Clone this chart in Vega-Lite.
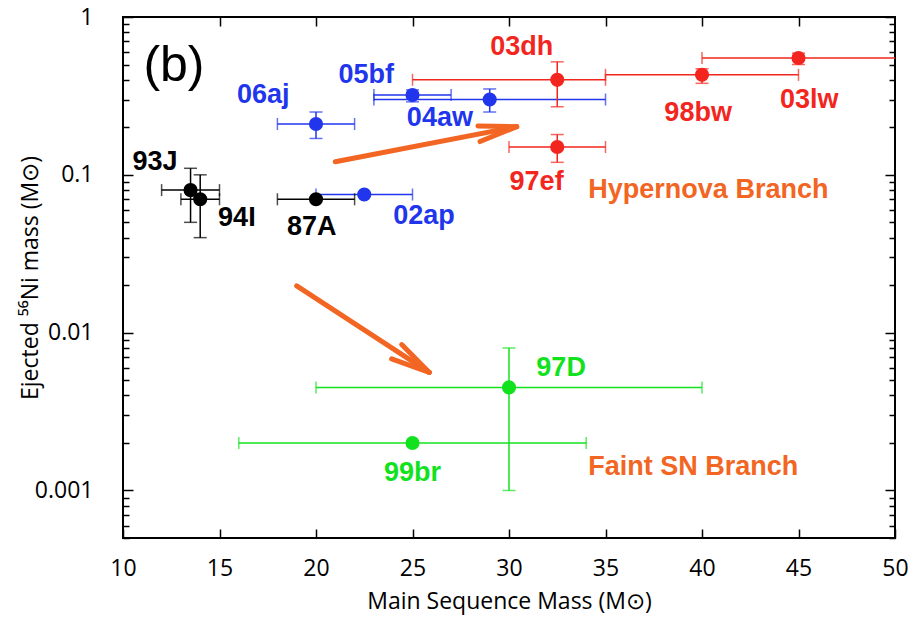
{
  "$schema": "https://vega.github.io/schema/vega-lite/v6.json",
  "width": 772,
  "height": 521,
  "autosize": "none",
  "padding": {"left": 123, "top": 17, "right": 20, "bottom": 85},
  "background": "white",
  "config": {
    "view": {"stroke": "#000", "strokeWidth": 2},
    "axis": {
      "labelFont": "Open Sans", "titleFont": "Open Sans", "labelColor": "#000", "titleColor": "#000",
      "titleFontWeight": "normal", "labelFontSize": 23, "titleFontSize": 23,
      "domain": false, "grid": false, "tickColor": "#000", "tickWidth": 1.5
    },
    "text": {"font": "Liberation Sans", "fontWeight": "bold", "fontSize": 27}
  },
  "datasets": {
    "sn": [
      {"name": "93J", "grp": "black", "x": 13.5, "xlo": 12, "xhi": 15, "y": 0.08, "ylo": 0.05, "yhi": 0.11},
      {"name": "94I", "grp": "black", "x": 14, "xlo": 13, "xhi": 15, "y": 0.07, "ylo": 0.04, "yhi": 0.1},
      {"name": "87A", "grp": "black", "x": 20, "xlo": 18, "xhi": 22, "y": 0.07, "ylo": null, "yhi": null},
      {"name": "06aj", "grp": "blue", "x": 20, "xlo": 18, "xhi": 22, "y": 0.21, "ylo": 0.17, "yhi": 0.25},
      {"name": "05bf", "grp": "blue", "x": 25, "xlo": 23, "xhi": 27, "y": 0.32, "ylo": 0.29, "yhi": 0.345},
      {"name": "04aw", "grp": "blue", "x": 29, "xlo": 23, "xhi": 35, "y": 0.3, "ylo": 0.25, "yhi": 0.35},
      {"name": "02ap", "grp": "blue", "x": 22.5, "xlo": 20, "xhi": 25, "y": 0.075, "ylo": null, "yhi": null},
      {"name": "03dh", "grp": "red", "x": 32.5, "xlo": 25, "xhi": 35, "y": 0.4, "ylo": 0.27, "yhi": 0.52},
      {"name": "97ef", "grp": "red", "x": 32.5, "xlo": 30, "xhi": 35, "y": 0.15, "ylo": 0.12, "yhi": 0.18},
      {"name": "98bw", "grp": "red", "x": 40, "xlo": 35, "xhi": 45, "y": 0.43, "ylo": 0.38, "yhi": 0.47},
      {"name": "03lw", "grp": "red", "x": 45, "xlo": 40, "xhi": 55, "y": 0.55, "ylo": 0.5, "yhi": 0.59},
      {"name": "97D", "grp": "green", "x": 30, "xlo": 20, "xhi": 40, "y": 0.0045, "ylo": 0.001, "yhi": 0.008},
      {"name": "99br", "grp": "green", "x": 25, "xlo": 16, "xhi": 34, "y": 0.002, "ylo": null, "yhi": null}
    ],
    "labels": [
      {"text": "93J", "grp": "black", "x": 11.66, "y": 0.121},
      {"text": "94I", "grp": "black", "x": 15.9, "y": 0.0532},
      {"text": "87A", "grp": "black", "x": 19.78, "y": 0.0464},
      {"text": "06aj", "grp": "blue", "x": 17.27, "y": 0.321},
      {"text": "05bf", "grp": "blue", "x": 22.6, "y": 0.43},
      {"text": "04aw", "grp": "blue", "x": 26.42, "y": 0.229},
      {"text": "02ap", "grp": "blue", "x": 25.6, "y": 0.0545},
      {"text": "03dh", "grp": "red", "x": 30.66, "y": 0.649},
      {"text": "97ef", "grp": "red", "x": 31.43, "y": 0.0907},
      {"text": "98bw", "grp": "red", "x": 39.8, "y": 0.248},
      {"text": "03lw", "grp": "red", "x": 45.56, "y": 0.298},
      {"text": "97D", "grp": "green", "x": 32.7, "y": 0.00597},
      {"text": "99br", "grp": "green", "x": 25.0, "y": 0.0013},
      {"text": "Hypernova Branch", "grp": "orange", "x": 40.33, "y": 0.0796},
      {"text": "Faint SN Branch", "grp": "orange", "x": 39.55, "y": 0.00141}
    ],
    "arrows": [
      {"part": "shaft1", "x": 21, "y": 0.121, "x2": 30.4, "y2": 0.202},
      {"part": "head1a", "x": 28.39, "y": 0.204, "x2": 30.4, "y2": 0.202},
      {"part": "head1b", "x": 28.5, "y": 0.1625, "x2": 30.4, "y2": 0.202},
      {"part": "shaft2", "x": 19.0, "y": 0.0198, "x2": 25.87, "y2": 0.0056},
      {"part": "head2a", "x": 24.44, "y": 0.0084, "x2": 25.87, "y2": 0.0056},
      {"part": "head2b", "x": 23.92, "y": 0.00682, "x2": 25.87, "y2": 0.0056}
    ],
    "panel": [{"text": "(b)", "x": 12.64, "y": 0.486}]
  },
  "resolve": {"axis": {"x": "independent", "y": "independent"}},
  "layer": [
    {
      "data": {"name": "sn"},
      "mark": {"type": "rule", "strokeWidth": 1.5, "clip": true},
      "encoding": {
        "x": {"field": "xlo", "type": "quantitative",
              "scale": {"domain": [10, 50], "nice": false, "zero": false},
              "axis": {"orient": "bottom", "values": [10, 15, 20, 25, 30, 35, 40, 45, 50], "tickSize": -9, "labelPadding": 28,
                       "title": "Main Sequence Mass (M⊙)", "titlePadding": 10, "labelFlush": false}},
        "x2": {"field": "xhi"},
        "y": {"field": "y", "type": "quantitative",
              "scale": {"type": "log", "domain": [0.0005, 1], "nice": false},
              "axis": {"orient": "left",
                       "values": [0.0005, 0.0006, 0.0007, 0.0008, 0.0009, 0.001, 0.002, 0.003, 0.004, 0.005, 0.006, 0.007, 0.008, 0.009, 0.01, 0.02, 0.03, 0.04, 0.05, 0.06, 0.07, 0.08, 0.09, 0.1, 0.2, 0.3, 0.4, 0.5, 0.6, 0.7, 0.8, 0.9, 1],
                       "format": "~g",
                       "labelExpr": "(datum.value == 1 || datum.value == 0.1 || datum.value == 0.01 || datum.value == 0.001) ? datum.label : ''",
                       "tickSize": {"condition": {"test": "datum.value == 1 || datum.value == 0.1 || datum.value == 0.01 || datum.value == 0.001", "value": -10}, "value": -6},
                       "labelPadding": 40, "labelFlush": false,
                       "title": "Ejected ⁵⁶Ni mass (M⊙)", "titlePadding": -8}},
        "color": {"field": "grp", "type": "nominal", "legend": null,
                  "scale": {"domain": ["black", "blue", "red", "green", "orange"], "range": ["#000000", "#2136ec", "#f2261e", "#12e21e", "#f26522"]}}
      }
    },
    {
      "data": {"name": "sn"},
      "transform": [{"filter": "isValid(datum.ylo)"}],
      "mark": {"type": "rule", "strokeWidth": 1.5},
      "encoding": {
        "x": {"field": "x", "type": "quantitative",
              "axis": {"orient": "top", "values": [15, 20, 25, 30, 35, 40, 45], "tickSize": -9, "labels": false, "title": null}},
        "y": {"field": "ylo", "type": "quantitative",
              "axis": {"orient": "right",
                       "values": [0.0005, 0.0006, 0.0007, 0.0008, 0.0009, 0.001, 0.002, 0.003, 0.004, 0.005, 0.006, 0.007, 0.008, 0.009, 0.01, 0.02, 0.03, 0.04, 0.05, 0.06, 0.07, 0.08, 0.09, 0.1, 0.2, 0.3, 0.4, 0.5, 0.6, 0.7, 0.8, 0.9, 1],
                       "tickSize": {"condition": {"test": "datum.value == 1 || datum.value == 0.1 || datum.value == 0.01 || datum.value == 0.001", "value": -10}, "value": -6},
                       "labels": false, "title": null}},
        "y2": {"field": "yhi"},
        "color": {"field": "grp", "type": "nominal", "legend": null}
      }
    },
    {
      "data": {"name": "sn"},
      "mark": {"type": "tick", "orient": "vertical", "size": 12, "thickness": 1.5, "clip": true},
      "encoding": {
        "x": {"field": "xlo", "type": "quantitative", "axis": null},
        "y": {"field": "y", "type": "quantitative", "axis": null},
        "color": {"field": "grp", "type": "nominal", "legend": null}
      }
    },
    {
      "data": {"name": "sn"},
      "mark": {"type": "tick", "orient": "vertical", "size": 12, "thickness": 1.5, "clip": true},
      "encoding": {
        "x": {"field": "xhi", "type": "quantitative", "axis": null},
        "y": {"field": "y", "type": "quantitative", "axis": null},
        "color": {"field": "grp", "type": "nominal", "legend": null}
      }
    },
    {
      "data": {"name": "sn"},
      "transform": [{"filter": "isValid(datum.ylo)"}],
      "mark": {"type": "tick", "orient": "horizontal", "size": 13, "thickness": 1.5},
      "encoding": {
        "x": {"field": "x", "type": "quantitative", "axis": null},
        "y": {"field": "ylo", "type": "quantitative", "axis": null},
        "color": {"field": "grp", "type": "nominal", "legend": null}
      }
    },
    {
      "data": {"name": "sn"},
      "transform": [{"filter": "isValid(datum.yhi)"}],
      "mark": {"type": "tick", "orient": "horizontal", "size": 13, "thickness": 1.5},
      "encoding": {
        "x": {"field": "x", "type": "quantitative", "axis": null},
        "y": {"field": "yhi", "type": "quantitative", "axis": null},
        "color": {"field": "grp", "type": "nominal", "legend": null}
      }
    },
    {
      "data": {"name": "sn"},
      "mark": {"type": "circle", "size": 200, "opacity": 1},
      "encoding": {
        "x": {"field": "x", "type": "quantitative", "axis": null},
        "y": {"field": "y", "type": "quantitative", "axis": null},
        "color": {"field": "grp", "type": "nominal", "legend": null}
      }
    },
    {
      "data": {"name": "arrows"},
      "mark": {"type": "rule", "strokeWidth": 5, "color": "#f26522", "strokeCap": "round"},
      "encoding": {
        "x": {"field": "x", "type": "quantitative", "axis": null},
        "y": {"field": "y", "type": "quantitative", "axis": null},
        "x2": {"field": "x2"},
        "y2": {"field": "y2"}
      }
    },
    {
      "data": {"name": "labels"},
      "mark": {"type": "text", "align": "center", "baseline": "middle"},
      "encoding": {
        "x": {"field": "x", "type": "quantitative", "axis": null},
        "y": {"field": "y", "type": "quantitative", "axis": null},
        "text": {"field": "text"},
        "color": {"field": "grp", "type": "nominal", "legend": null}
      }
    },
    {
      "data": {"name": "panel"},
      "mark": {"type": "text", "align": "center", "baseline": "middle", "fontWeight": "normal", "fontSize": 50, "font": "Liberation Sans", "color": "#000"},
      "encoding": {
        "x": {"field": "x", "type": "quantitative", "axis": null},
        "y": {"field": "y", "type": "quantitative", "axis": null},
        "text": {"field": "text"}
      }
    }
  ]
}
